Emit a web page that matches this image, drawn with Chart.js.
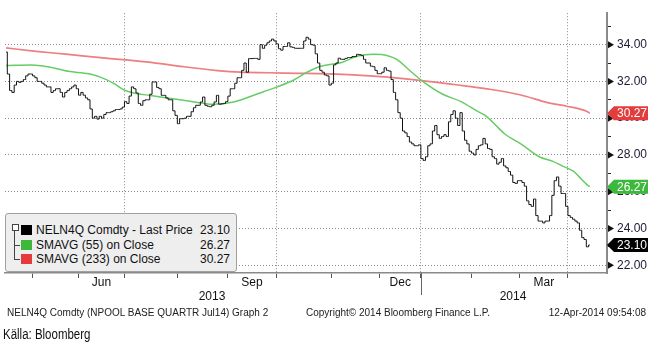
<!DOCTYPE html>
<html>
<head>
<meta charset="utf-8">
<script src="https://cdn.jsdelivr.net/npm/chart.js@4.4.0/dist/chart.umd.min.js"></script>
<style>
html,body{margin:0;padding:0;background:#fff;}
#wrap{position:relative;width:652px;height:347px;overflow:hidden;font-family:"Liberation Sans",Arial,sans-serif;}
#c{position:absolute;left:0;top:0;}
.lg{position:absolute;left:5px;top:213px;width:232px;height:59px;background:#eeeeee;border:1px solid #a0a0a0;border-radius:3px;box-sizing:border-box;}
.row{position:absolute;left:0;width:224px;height:15px;font-size:12px;line-height:15px;color:#111;white-space:nowrap;}
.sq{position:absolute;left:15px;top:2px;width:11px;height:10px;}
.nm{position:absolute;left:30px;}
.vl{position:absolute;right:0;}
.tb{position:absolute;left:6px;top:10px;width:5px;height:5px;border:1px solid #444;background:#fff;}
.tl{position:absolute;background:#444;}
.ft{position:absolute;top:306px;font-size:10px;line-height:14px;color:#222;white-space:nowrap;}
.src{position:absolute;left:3px;top:326px;font:14px "Liberation Sans Narrow","Liberation Sans",sans-serif;color:#111;white-space:nowrap;transform:scaleX(0.82);transform-origin:0 0;}
</style>
</head>
<body>
<div id="wrap">
<canvas id="c" width="652" height="347"></canvas>
<div class="lg" id="lg">
  <div class="tb"></div>
  <div class="tl" style="left:8px;top:17px;width:1px;height:29px;"></div>
  <div class="tl" style="left:8px;top:31px;width:6px;height:1px;"></div>
  <div class="tl" style="left:8px;top:45px;width:6px;height:1px;"></div>
</div>
<div class="ft" style="left:7px;">NELN4Q Comdty (NPOOL BASE QUARTR Jul14) Graph 2</div>
<div class="ft" style="left:306px;">Copyright© 2014 Bloomberg Finance L.P.</div>
<div class="ft" style="right:6px;">12-Apr-2014 09:54:08</div>
<div class="src">Källa: Bloomberg</div>
</div>
<script>
// daily closes, one per trading day (index 0 = mid Apr 2013, last = 11 Apr 2014)
const closes = [
  33.6, 32.4, 31.5, 31.4, 31.8, 32.0, 31.95, 32.0, 32.1, 32.3,
  32.4, 32.4, 32.3, 32.2, 32.0, 32.0, 31.9, 31.8, 31.7, 31.7,
  31.4, 31.5, 31.6, 31.6, 31.4, 31.15, 31.4, 31.5, 31.6, 31.7,
  31.8, 31.6, 31.25, 31.4, 31.25, 31.1, 31.0, 30.5, 30.0, 30.1,
  29.95, 30.1, 30.0, 30.2, 30.3, 30.3, 30.35, 30.4, 30.47, 30.47,
  30.5, 30.6, 30.9, 30.8, 31.2, 31.7, 31.6, 31.37, 30.8, 30.7,
  30.95, 31.0, 31.0, 31.3, 31.97, 31.97, 31.67, 31.6, 31.24, 31.24,
  31.1, 31.0, 31.0, 30.4, 30.15, 29.7, 29.97, 29.97, 30.0, 30.1,
  30.1, 30.35, 30.57, 30.7, 30.7, 30.88, 31.15, 30.7, 30.65, 30.62,
  30.7, 30.88, 31.24, 30.76, 30.78, 30.8, 30.9, 31.2, 31.6, 31.6,
  31.9, 32.2, 32.2, 32.6, 33.0, 32.5, 33.24, 33.24, 33.25, 33.25,
  33.2, 34.0, 33.8, 33.97, 34.1, 34.2, 34.3, 34.2, 34.04, 33.78,
  33.7, 33.9, 33.9, 34.1, 33.88, 33.85, 33.8, 33.8, 33.8, 33.8,
  34.2, 34.4, 34.3, 34.0, 33.97, 33.5, 33.0, 32.6, 32.5, 32.35,
  32.3, 31.8, 31.9, 32.9, 33.0, 33.26, 33.2, 33.2, 33.25, 33.3,
  33.3, 33.35, 33.35, 33.47, 33.45, 33.4, 33.2, 33.0, 33.0, 32.83,
  32.8, 32.6, 32.42, 32.42, 32.5, 32.74, 32.6, 32.56, 32.1, 31.4,
  31.0, 30.3, 30.0, 29.3, 29.2, 29.0, 28.7, 28.6, 28.5, 28.5,
  28.55, 27.8, 27.7, 27.9, 28.5, 28.6, 29.3, 29.6, 29.1, 28.9,
  29.0, 29.1, 29.0, 29.8, 30.2, 30.4, 30.0, 29.6, 30.3, 29.3,
  28.8, 28.6, 28.2, 28.1, 28.0, 28.3, 28.5, 28.55, 28.9, 28.6,
  28.35, 28.3, 27.9, 27.8, 27.5, 27.6, 27.8, 27.4, 27.3, 27.1,
  26.9, 26.5, 26.45, 26.6, 26.6, 26.5, 26.3, 25.5, 25.3, 25.2,
  25.6, 24.7, 24.4, 24.4, 24.3, 24.4, 24.4, 24.7, 25.8, 26.6,
  26.8, 26.3, 25.9, 25.9, 25.2, 24.7, 24.6, 24.5, 24.4, 24.3,
  23.9, 23.5, 23.4, 23.0, 23.1
];

// SMA lines (trading day index, value)
const sma55Idx = [0, 11, 18, 27, 36, 41, 47, 51, 56, 63, 70, 77, 85, 90, 99, 108, 112, 118, 125, 131,
                  137, 146, 153, 160, 166, 170, 176, 181, 190, 198, 205, 209, 214, 217, 224, 232, 238, 242, 247, 249, 253, 254];
const sma55Val = [32.86, 32.89, 32.8, 32.55, 32.41, 32.23, 31.88, 31.55, 31.35, 31.23, 31.1, 30.98, 30.83, 30.75, 30.88, 31.26, 31.44, 31.7, 32.06, 32.5,
                  32.82, 33.03, 33.38, 33.47, 33.4, 33.2, 32.55, 32.03, 31.3, 30.9, 30.38, 30.1, 29.5, 29.14, 28.6, 27.9, 27.65, 27.4, 27.1, 26.86, 26.36, 26.27];
const sma233Idx = [0, 12, 27, 41, 52, 63, 77, 92, 102, 114, 128, 140, 151, 166, 180, 195, 210, 224, 236, 244, 253, 254];
const sma233Val = [33.82, 33.65, 33.47, 33.29, 33.17, 33.03, 32.8, 32.59, 32.5, 32.47, 32.44, 32.41, 32.36, 32.23, 32.06, 31.83, 31.58, 31.26, 30.83, 30.65, 30.35, 30.27];

// x axis: month boundaries, quarter gridlines, labels
const monthStarts = [11.5, 31.5, 51.5, 74.5, 96.5, 117.5, 141.5, 162.5, 180.5, 202.5, 223.5, 244.5];
const quarterStarts = [51.5, 117.5, 180.5, 244.5];
const monthLabelPos = [41.5, 107, 171.5, 234];
const monthLabels = ['Jun', 'Sep', 'Dec', 'Mar'];
const yearLabelPos = [89.6, 220.6];
const yearLabels = ['2013', '2014'];
const yearStart = 180.5;

// y axis
const yMajor = [22, 24, 26, 28, 30, 32, 34];
const yMinor = [23, 25, 27, 29, 31, 33, 35];

const seriesNames = ['NELN4Q Comdty - Last Price', 'SMAVG (55) on Close', 'SMAVG (233) on Close'];
const seriesColors = ['#000000', '#3cb83c', '#e23c3c'];
const lastVals = [closes[closes.length - 1], sma55Val[sma55Val.length - 1], sma233Val[sma233Val.length - 1]];

// legend box (html)
const lg = document.getElementById('lg');
[9, 23.5, 38].forEach((top, i) => {
  const r = document.createElement('div');
  r.className = 'row';
  r.style.top = top + 'px';
  r.innerHTML = '<span class="sq" style="background:' + seriesColors[i] + '"></span>' +
    '<span class="nm">' + seriesNames[i] + '</span><span class="vl">' + lastVals[i].toFixed(2) + '</span>';
  lg.appendChild(r);
});

Chart.defaults.font.family = '"Liberation Sans", Arial, sans-serif';
Chart.defaults.color = '#111';

const marks = {
  id: 'marks',
  afterDraw(chart) {
    const ctx = chart.ctx, ys = chart.scales.y, xs = chart.scales.x, ca = chart.chartArea;
    const ax = ca.right;
    ctx.save();
    ctx.fillStyle = '#111';
    yMajor.forEach(v => {
      const py = ys.getPixelForValue(v);
      ctx.beginPath();
      ctx.moveTo(ax + 1, py - 3.5);
      ctx.lineTo(ax + 7, py);
      ctx.lineTo(ax + 1, py + 3.5);
      ctx.closePath();
      ctx.fill();
    });
    const px = Math.round(xs.getPixelForValue(yearStart)) + 0.5;
    ctx.strokeStyle = '#666';
    ctx.lineWidth = 1;
    ctx.beginPath();
    ctx.moveTo(px, ca.bottom);
    ctx.lineTo(px, ca.bottom + 22);
    ctx.stroke();
    [2, 1, 0].forEach(i => {
      const py = ys.getPixelForValue(lastVals[i]);
      ctx.fillStyle = seriesColors[i];
      ctx.beginPath();
      ctx.moveTo(ax, py);
      ctx.lineTo(ax + 7, py - 7);
      ctx.lineTo(648, py - 7);
      ctx.lineTo(648, py + 7);
      ctx.lineTo(ax + 7, py + 7);
      ctx.closePath();
      ctx.fill();
      ctx.fillStyle = '#fff';
      ctx.font = '12px "Liberation Sans", Arial, sans-serif';
      ctx.textBaseline = 'middle';
      ctx.textAlign = 'left';
      ctx.fillText(lastVals[i].toFixed(2), ax + 10, py + 0.5);
    });
    ctx.restore();
  }
};

new Chart(document.getElementById('c'), {
  type: 'line',
  data: {
    datasets: [
      { label: seriesNames[0], data: closes.map((c, i) => ({ x: i, y: c })), borderColor: '#111', borderWidth: 1,
        stepped: 'middle', pointRadius: 0 },
      { label: seriesNames[1], data: sma55Idx.map((d, i) => ({ x: d, y: sma55Val[i] })), borderColor: '#66cc66',
        borderWidth: 1.5, pointRadius: 0, cubicInterpolationMode: 'monotone' },
      { label: seriesNames[2], data: sma233Idx.map((d, i) => ({ x: d, y: sma233Val[i] })), borderColor: '#ec7f7f',
        borderWidth: 1.7, pointRadius: 0, cubicInterpolationMode: 'monotone' }
    ]
  },
  options: {
    responsive: false,
    animation: false,
    devicePixelRatio: 1,
    layout: { padding: { top: 6, left: 5, right: 0, bottom: 42 } },
    plugins: { legend: { display: false }, tooltip: { enabled: false } },
    scales: {
      x: {
        type: 'linear', min: -0.5, max: 261.5, weight: 0,
        afterBuildTicks: s => { s.ticks = monthStarts.map(v => ({ value: v })); },
        afterFit: s => { s.height = 4; },
        ticks: { display: false },
        grid: {
          color: c => quarterStarts.includes(c.tick.value) ? '#8a8a8a' : 'rgba(0,0,0,0)',
          tickColor: '#555', tickLength: 5, lineWidth: 1
        },
        border: { color: '#8a8a8a', width: 1.5, dash: [1, 2] }
      },
      xm: {
        type: 'linear', position: 'bottom', min: -0.5, max: 261.5, weight: 1,
        afterBuildTicks: s => { s.ticks = monthLabelPos.map(v => ({ value: v })); },
        afterFit: s => { s.height = 13; },
        ticks: { autoSkip: false, maxRotation: 0, padding: 0, font: { size: 12, lineHeight: 1 },
                 callback: (v, i) => monthLabels[i] },
        grid: { display: false, drawTicks: false },
        border: { display: false }
      },
      xy: {
        type: 'linear', position: 'bottom', min: -0.5, max: 261.5, weight: 2,
        afterBuildTicks: s => { s.ticks = yearLabelPos.map(v => ({ value: v })); },
        afterFit: s => { s.height = 15; },
        ticks: { autoSkip: false, maxRotation: 0, padding: 1, font: { size: 12, lineHeight: 1 },
                 callback: (v, i) => yearLabels[i] },
        grid: { display: false, drawTicks: false },
        border: { display: false }
      },
      y: {
        position: 'right', min: 21.576, max: 35.71,
        afterBuildTicks: s => { s.ticks = yMajor.concat(yMinor).sort((a, b) => a - b).map(v => ({ value: v })); },
        afterFit: s => { s.width = 45; },
        ticks: { padding: 6, color: '#1a1a33', font: { size: 12 },
                 callback: v => yMajor.includes(v) ? v.toFixed(2) : '' },
        grid: {
          color: c => yMajor.includes(c.tick.value) ? '#8a8a8a' : 'rgba(0,0,0,0)',
          tickColor: '#222', tickLength: 4
        },
        border: { color: '#8a8a8a', width: 2, dash: [1, 2] }
      }
    }
  },
  plugins: [marks]
});
</script>
</body>
</html>
